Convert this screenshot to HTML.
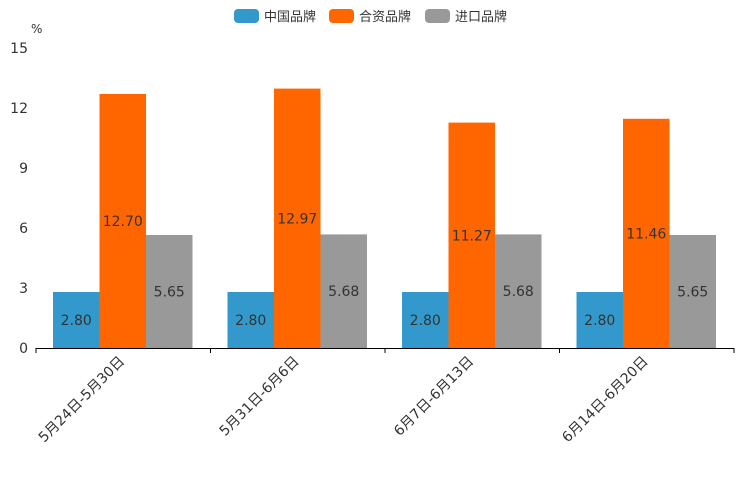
<!DOCTYPE html>
<html><head><meta charset="utf-8"><style>
body{margin:0;background:#fff;}
svg text{font-family:"DejaVu Sans","Liberation Sans","Noto Sans CJK SC",sans-serif;}
</style></head><body>
<svg id="c" width="744" height="496">
<g>
<g><rect x="234" y="9" width="25" height="14" rx="4" fill="#3399cc"/><text x="264" y="21" font-size="13" fill="#333">中国品牌</text></g>
<g><rect x="329" y="9" width="25" height="14" rx="4" fill="#ff6600"/><text x="359" y="21" font-size="13" fill="#333">合资品牌</text></g>
<g><rect x="425" y="9" width="25" height="14" rx="4" fill="#999999"/><text x="455" y="21" font-size="13" fill="#333">进口品牌</text></g>
</g>
<text x="31" y="33" font-size="12" fill="#333">%</text>
<g id="marks"></g>
</svg>
<script>
const categories=["5月24日-5月30日","5月31日-6月6日","6月7日-6月13日","6月14日-6月20日"];
const chinaValues=[2.80,2.80,2.80,2.80];
const jvValues=[12.70,12.97,11.27,11.46];
const importValues=[5.65,5.68,5.68,5.65];
const yTicks=[0,3,6,9,12,15];
const NS="http://www.w3.org/2000/svg";
const g=document.getElementById('marks');
const x0=36,x1=734,y0=348,yMax=15,plotH=300;
const bandW=(x1-x0)/categories.length;
const y=v=>y0-v/yMax*plotH;
function el(t,a){const e=document.createElementNS(NS,t);for(const k in a)e.setAttribute(k,a[k]);g.appendChild(e);return e;}
yTicks.forEach(t=>{const e=el('text',{x:28,y:y(t)+5,'font-size':14,'text-anchor':'end',fill:'#333'});e.textContent=t;

});
const ax=el('line',{x1:x0,x2:x1,y1:y0+0.5,y2:y0+0.5,stroke:'#000'});


for(let i=0;i<=categories.length;i++){const tk=el('line',{x1:x0+i*bandW,x2:x0+i*bandW,y1:y0,y2:y0+5,stroke:'#000'});

}
const series=[[chinaValues,'#3399cc','china'],[jvValues,'#ff6600','jv'],[importValues,'#999999','import']];
const bw=46.5,off=17;
categories.forEach((c,i)=>{
 const bx=x0+i*bandW+off;
 series.forEach(([vals,col,nm],j)=>{
  const v=vals[i];
  const r=el('rect',{x:bx+j*bw,y:y(v),width:bw,height:y0-y(v),fill:col});
  
  
  const t=el('text',{x:bx+j*bw+bw/2,y:(y(v)+y0)/2+5,'font-size':14,'text-anchor':'middle',fill:'#333'});
  t.textContent=v.toFixed(2);
  
  
 });
 const cx=x0+i*bandW+bandW/2;
 const lt=el('text',{x:cx+2,y:y0+14,'font-size':14,'text-anchor':'end',fill:'#333',transform:`rotate(-45 ${cx+2} ${y0+14})`});
 lt.textContent=c;
 
 
});
</script>
</body></html>
